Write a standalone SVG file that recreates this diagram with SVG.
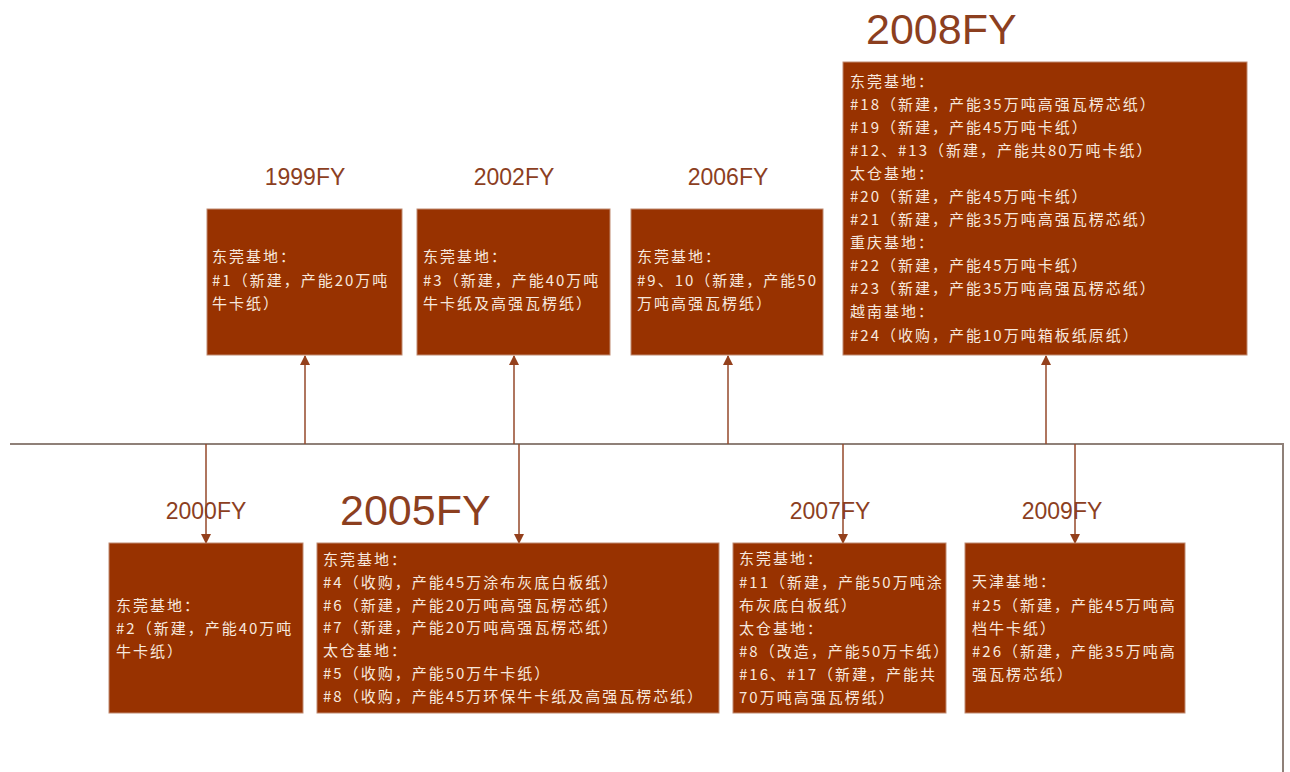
<svg xmlns="http://www.w3.org/2000/svg" width="1290" height="772" viewBox="0 0 1290 772">
<style>
.box{fill:#983200;stroke:#c08a70;stroke-width:1}
.t{font-family:"Noto Sans CJK SC","Liberation Sans",sans-serif;font-size:15px;fill:#f7e8de;letter-spacing:2px}
.yr{font-family:"Liberation Sans","Noto Sans",sans-serif;font-size:23px;fill:#8c3f1f;text-anchor:middle}
.big{font-family:"Liberation Sans","Noto Sans",sans-serif;font-size:43px;fill:#8c3f1f}
.axis{fill:none;stroke:#8f8078;stroke-width:2}
.con{stroke:#94482a;stroke-width:1.5;fill:none}
</style>
<defs>
<marker id="ah" markerWidth="10" markerHeight="10" refX="9" refY="5" orient="auto" markerUnits="userSpaceOnUse">
<path d="M0,0 L10,5 L0,10 Z" fill="#94401c"/>
</marker>
</defs>
<rect width="1290" height="772" fill="#ffffff"/>
<g id="connectors">
<polyline class="axis" points="10,444 1283,444 1283,772"/>
<line class="con" x1="305" y1="444" x2="305" y2="356" marker-end="url(#ah)"/>
<line class="con" x1="514" y1="444" x2="514" y2="356" marker-end="url(#ah)"/>
<line class="con" x1="728" y1="444" x2="728" y2="356" marker-end="url(#ah)"/>
<line class="con" x1="1046" y1="444" x2="1046" y2="356" marker-end="url(#ah)"/>
<line class="con" x1="206" y1="444" x2="206" y2="543" marker-end="url(#ah)"/>
<line class="con" x1="519" y1="444" x2="519" y2="543" marker-end="url(#ah)"/>
<line class="con" x1="843" y1="444" x2="843" y2="543" marker-end="url(#ah)"/>
<line class="con" x1="1075" y1="444" x2="1075" y2="543" marker-end="url(#ah)"/>
</g>
<g id="n1999">
<text class="yr" x="305" y="185">1999FY</text>
<rect class="box" x="207" y="209" width="195" height="146"/>
<text class="t" x="212" y="262">东莞基地：</text>
<text class="t" x="212" y="286">#1（新建，产能20万吨</text>
<text class="t" x="212" y="309">牛卡纸）</text>
</g>
<g id="n2002">
<text class="yr" x="514" y="185">2002FY</text>
<rect class="box" x="417" y="209" width="193" height="146"/>
<text class="t" x="423" y="262">东莞基地：</text>
<text class="t" x="423" y="286">#3（新建，产能40万吨</text>
<text class="t" x="423" y="309">牛卡纸及高强瓦楞纸）</text>
</g>
<g id="n2006">
<text class="yr" x="728" y="185">2006FY</text>
<rect class="box" x="631" y="209" width="192" height="146"/>
<text class="t" x="637" y="262">东莞基地：</text>
<text class="t" x="637" y="286">#9、10（新建，产能50</text>
<text class="t" x="637" y="309">万吨高强瓦楞纸）</text>
</g>
<g id="n2008">
<text class="big" x="866" y="44">2008FY</text>
<rect class="box" x="843" y="62" width="404" height="293"/>
<text class="t" x="850" y="87">东莞基地：</text>
<text class="t" x="850" y="110">#18（新建，产能35万吨高强瓦楞芯纸）</text>
<text class="t" x="850" y="133">#19（新建，产能45万吨卡纸）</text>
<text class="t" x="850" y="156">#12、#13（新建，产能共80万吨卡纸）</text>
<text class="t" x="850" y="179">太仓基地：</text>
<text class="t" x="850" y="202">#20（新建，产能45万吨卡纸）</text>
<text class="t" x="850" y="225">#21（新建，产能35万吨高强瓦楞芯纸）</text>
<text class="t" x="850" y="248">重庆基地：</text>
<text class="t" x="850" y="271">#22（新建，产能45万吨卡纸）</text>
<text class="t" x="850" y="294">#23（新建，产能35万吨高强瓦楞芯纸）</text>
<text class="t" x="850" y="317">越南基地：</text>
<text class="t" x="850" y="341">#24（收购，产能10万吨箱板纸原纸）</text>
</g>
<g id="n2000">
<text class="yr" x="206" y="519">2000FY</text>
<rect class="box" x="109" y="543" width="194" height="170"/>
<text class="t" x="116" y="611">东莞基地：</text>
<text class="t" x="116" y="634">#2（新建，产能40万吨</text>
<text class="t" x="116" y="657">牛卡纸）</text>
</g>
<g id="n2005">
<text class="big" x="340" y="525">2005FY</text>
<rect class="box" x="317" y="543" width="402" height="170"/>
<text class="t" x="323" y="565">东莞基地：</text>
<text class="t" x="323" y="588">#4（收购，产能45万涂布灰底白板纸）</text>
<text class="t" x="323" y="611">#6（新建，产能20万吨高强瓦楞芯纸）</text>
<text class="t" x="323" y="633">#7（新建，产能20万吨高强瓦楞芯纸）</text>
<text class="t" x="323" y="656">太仓基地：</text>
<text class="t" x="323" y="679">#5（收购，产能50万牛卡纸）</text>
<text class="t" x="323" y="702">#8（收购，产能45万环保牛卡纸及高强瓦楞芯纸）</text>
</g>
<g id="n2007">
<text class="yr" x="830" y="519">2007FY</text>
<rect class="box" x="733" y="543" width="213" height="170"/>
<text class="t" x="739" y="564">东莞基地：</text>
<text class="t" x="739" y="588">#11（新建，产能50万吨涂</text>
<text class="t" x="739" y="611">布灰底白板纸）</text>
<text class="t" x="739" y="634">太仓基地：</text>
<text class="t" x="739" y="657">#8（改造，产能50万卡纸）</text>
<text class="t" x="739" y="680">#16、#17（新建，产能共</text>
<text class="t" x="739" y="703">70万吨高强瓦楞纸）</text>
</g>
<g id="n2009">
<text class="yr" x="1062" y="519">2009FY</text>
<rect class="box" x="965" y="543" width="220" height="170"/>
<text class="t" x="972" y="587">天津基地：</text>
<text class="t" x="972" y="611">#25（新建，产能45万吨高</text>
<text class="t" x="972" y="634">档牛卡纸）</text>
<text class="t" x="972" y="657">#26（新建，产能35万吨高</text>
<text class="t" x="972" y="680">强瓦楞芯纸）</text>
</g>
</svg>
